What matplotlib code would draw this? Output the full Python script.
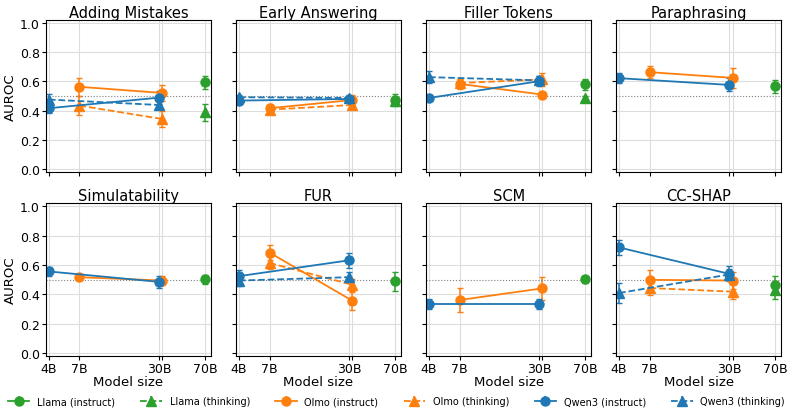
import matplotlib
matplotlib.use("Agg")
import matplotlib.pyplot as plt

metrics = ["Adding Mistakes", "Early Answering", "Filler Tokens", "Paraphrasing",
           "Simulatability", "FUR", "SCM", "CC-SHAP"]

# model sizes (billions of params)
qwen_sizes = [4, 30]
olmo_sizes = [7, 32]
llama_sizes = [70]

# values per metric (None = not evaluated)
qwen_instruct = [[0.416, 0.488], [0.468, 0.479], [0.486, 0.600], [0.621, 0.575],
                 [0.556, 0.485], [0.524, 0.632], [0.333, 0.333], [0.720, 0.540]]
qwen_instruct_err = [[0.035, 0.045], [0.025, 0.02], [0.015, 0.035], [0.035, 0.045],
                     [0.03, 0.04], [0.045, 0.05], [0.035, 0.035], [0.05, 0.05]]
qwen_thinking = [[0.475, 0.438], [0.491, 0.486], [0.628, 0.606], None,
                 None, [0.494, 0.517], None, [0.409, 0.535]]
qwen_thinking_err = [[0.035, 0.03], [0.015, 0.015], [0.04, 0.03], None,
                     None, [0.035, 0.035], None, [0.07, 0.04]]
olmo_instruct = [[0.562, 0.520], [0.416, 0.472], [0.582, 0.509], [0.662, 0.623],
                 [0.517, 0.494], [0.685, 0.356], [0.361, 0.441], [0.499, 0.494]]
olmo_instruct_err = [[0.06, 0.055], [0.03, 0.035], [0.035, 0.02], [0.04, 0.07],
                     [0.015, 0.03], [0.05, 0.06], [0.08, 0.08], [0.07, 0.06]]
olmo_thinking = [[0.434, 0.342], [0.406, 0.438], [0.588, 0.612], None,
                 None, [0.614, 0.465], None, [0.443, 0.418]]
olmo_thinking_err = [[0.065, 0.057], [0.025, 0.02], [0.03, 0.045], None,
                     None, [0.04, 0.04], None, [0.05, 0.05]]
llama_instruct = [0.594, 0.475, 0.578, 0.566, 0.503, 0.490, 0.503, 0.466]
llama_instruct_err = [0.045, 0.035, 0.04, 0.045, 0.03, 0.065, 0.025, 0.06]
llama_thinking = [0.388, 0.462, 0.486, None, None, None, None, 0.430]
llama_thinking_err = [0.06, 0.03, 0.015, None, None, None, None, 0.06]

blue, orange, green = "#1f77b4", "#ff7f0e", "#2ca02c"

series = [
    ("Llama (instruct)", llama_sizes, [[v] for v in llama_instruct], [[e] for e in llama_instruct_err], green, "o", "-"),
    ("Llama (thinking)", llama_sizes, [[v] if v is not None else None for v in llama_thinking],
     [[e] if e is not None else None for e in llama_thinking_err], green, "^", "--"),
    ("Olmo (instruct)", olmo_sizes, olmo_instruct, olmo_instruct_err, orange, "o", "-"),
    ("Olmo (thinking)", olmo_sizes, olmo_thinking, olmo_thinking_err, orange, "^", "--"),
    ("Qwen3 (instruct)", qwen_sizes, qwen_instruct, qwen_instruct_err, blue, "o", "-"),
    ("Qwen3 (thinking)", qwen_sizes, qwen_thinking, qwen_thinking_err, blue, "^", "--"),
]

fig, axes = plt.subplots(2, 4, figsize=(7.93, 4.14), dpi=100, sharex=True, sharey=True)
plt.subplots_adjust(left=0.058, right=0.985, top=0.950, bottom=0.138, wspace=0.152, hspace=0.206)

style = dict(markersize=6.5, linewidth=1.3, capsize=2, elinewidth=1.1)

for i, ax in enumerate(axes.flat):
    for label, sizes, vals, errs, color, marker, ls in series:
        if vals[i] is None:
            continue
        ax.errorbar(sizes, vals[i], yerr=errs[i], color=color, marker=marker, linestyle=ls, **style)
    ax.axhline(0.5, color="grey", linestyle=":", linewidth=0.8)
    ax.set_xscale("log")
    ax.set_xlim(3.79, 78)
    ax.set_ylim(-0.02, 1.02)
    ax.set_xticks([4, 7, 30, 32, 70])
    ax.set_xticklabels(["4B", "7B", "30B", "", "70B"])
    ax.minorticks_off()
    ax.set_yticks([0, 0.2, 0.4, 0.6, 0.8, 1.0])
    ax.grid(True, color="#dddddd", linewidth=0.8)
    ax.set_axisbelow(True)
    ax.set_title(metrics[i], fontsize=10.5, pad=2)
    ax.tick_params(labelsize=9, length=3, pad=1.5)
    if i % 4 == 0:
        ax.set_ylabel("AUROC", fontsize=9.5, labelpad=2)
    if i >= 4:
        ax.set_xlabel("Model size", fontsize=9.5, labelpad=0)

handles = []
for label, sizes, vals, errs, color, marker, ls in series:
    h = axes[0, 0].errorbar([], [], yerr=[], color=color, marker=marker, linestyle=ls, **style)
    handles.append(h)

fig.legend(handles, [s[0] for s in series], loc="lower center", ncol=6,
           frameon=False, fontsize=7, bbox_to_anchor=(0.5, -0.005), handlelength=2.2,
           handletextpad=0.8, columnspacing=2.6)

fig.savefig("out.png", dpi=100)
